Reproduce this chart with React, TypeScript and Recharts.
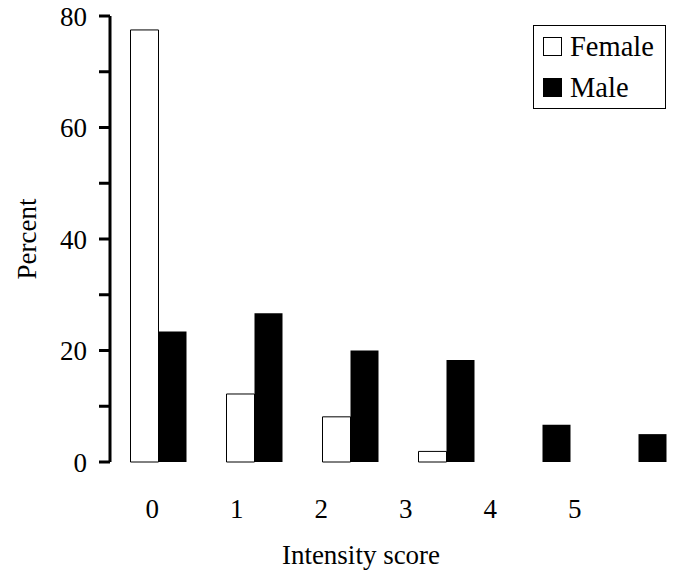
import { BarChart, Bar, XAxis, YAxis, Legend } from "recharts";

const scores = ["0", "1", "2", "3", "4", "5"];
const female = [77.5, 12.2, 8.1, 1.9, 0, 0];
const male = [23.4, 26.7, 20.0, 18.3, 6.7, 5.0];
const yTicks = [0, 10, 20, 30, 40, 50, 60, 70, 80];

const data = scores.map((s, i) => ({ score: s, Female: female[i], Male: male[i] }));

const FONT = '"Liberation Serif", "DejaVu Serif", serif';

function LegendBox() {
  const row = (fill: string, label: string) => (
    <div style={{ display: "flex", alignItems: "center", height: 41 }}>
      <span
        style={{
          display: "inline-block",
          width: 17,
          height: 17,
          background: fill,
          border: "1px solid #000",
          marginRight: 8,
        }}
      />
      <span style={{ fontSize: 28.5, fontFamily: FONT, color: "#000", lineHeight: "28px" }}>{label}</span>
    </div>
  );
  return (
    <div
      style={{
        border: "1.5px solid #000",
        width: 122,
        padding: "0 0 0 9px",
        background: "#fff",
      }}
    >
      {row("#fff", "Female")}
      {row("#000", "Male")}
    </div>
  );
}

export default function App() {
  return (
    <div style={{ position: "absolute", top: 0, left: 0, width: 694, height: 577, background: "#fff" }}>
      <BarChart
        width={694}
        height={577}
        data={data}
        margin={{ top: 16, right: 8, left: 0, bottom: 0 }}
        barCategoryGap={20.5}
        barGap={0}
      >
        <XAxis
          dataKey="score"
          height={0}
          tick={false}
          tickLine={false}
          axisLine={{ stroke: "#000", strokeWidth: 3 }}
        />
        <XAxis
          xAxisId="lbl"
          dataKey="score"
          height={115}
          padding={{ left: 0, right: 69 }}
          axisLine={false}
          tickLine={false}
          tickSize={0}
          tickMargin={37}
          tick={{ fontSize: 27, fill: "#000", fontFamily: FONT }}
          label={{
            value: "Intensity score",
            position: "insideBottom",
            offset: 13,
            dx: -37,
            style: { fontSize: 27, fill: "#000", fontFamily: FONT },
          }}
        />
        <YAxis
          width={110}
          domain={[0, 80]}
          ticks={yTicks}
          interval={0}
          tickFormatter={(v: number) => (v % 20 === 0 ? String(v) : "")}
          tickSize={11}
          tickMargin={12}
          axisLine={{ stroke: "#000", strokeWidth: 3 }}
          tickLine={{ stroke: "#000", strokeWidth: 3 }}
          tick={{ fontSize: 27, fill: "#000", fontFamily: FONT }}
          label={{
            value: "Percent",
            angle: -90,
            position: "insideLeft",
            offset: 26,
            style: { fontSize: 27, fill: "#000", fontFamily: FONT, textAnchor: "middle" },
          }}
        />
        <Legend
          layout="horizontal"
          verticalAlign="middle"
          align="center"
          wrapperStyle={{ top: 25, left: 533, width: "auto" }}
          content={() => <LegendBox />}
        />
        <Bar dataKey="Female" fill="#fff" stroke="#000" strokeWidth={1} isAnimationActive={false} />
        <Bar dataKey="Male" fill="#000" isAnimationActive={false} />
      </BarChart>
    </div>
  );
}
